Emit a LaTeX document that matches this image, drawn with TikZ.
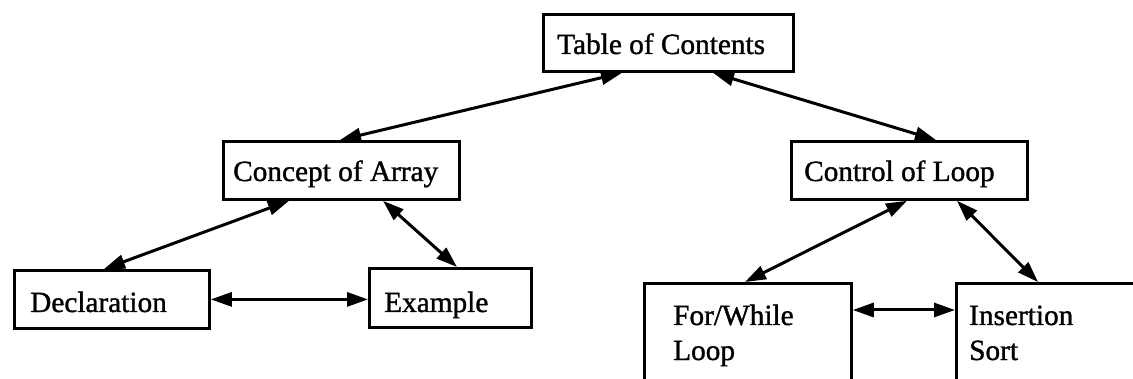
\documentclass[tikz,border=0pt]{standalone}
\usepackage{fontspec}
\setmainfont[FakeBold=1.2]{Liberation Serif}
\usetikzlibrary{arrows.meta}
\begin{document}
\begin{tikzpicture}[x=1pt,y=-1pt,
  box/.style={draw, line width=2.8pt, rectangle, inner sep=0pt, anchor=north west},
  lbl/.style={anchor=base west, inner sep=0pt, font=\fontsize{29.3}{34}\selectfont},
  link/.style={line width=3pt, {Triangle[length=21pt,width=14pt]}-{Triangle[length=21pt,width=14pt]}}]
\useasboundingbox (0,0) rectangle (1133,379);
\clip (0,0) rectangle (1133,379);
% boxes
\node[box, minimum width=250pt, minimum height=57pt] (toc) at (542,13) {};
\node[box, minimum width=236pt, minimum height=58pt] (coa) at (222,140) {};
\node[box, minimum width=236pt, minimum height=58pt] (col) at (790,140) {};
\node[box, minimum width=195pt, minimum height=58pt] (decl) at (13,269) {};
\node[box, minimum width=162pt, minimum height=59pt] (ex) at (368,267) {};
\node[box, minimum width=207pt, minimum height=200pt] (fw) at (643,282) {};
\node[box, minimum width=250pt, minimum height=200pt] (ins) at (955,282) {};
% labels
\node[lbl] (toct) at (557,54) {Table of Contents};
\node[lbl] (coat) at (233,181) {Concept of Array};
\node[lbl] (colt) at (804,181) {Control of Loop};
\node[lbl] (declt) at (30,312) {Declaration};
\node[lbl] (ext) at (384,312) {Example};
\node[lbl] (fwt1) at (673,325) {For/While};
\node[lbl] (fwt2) at (673,360) {Loop};
\node[lbl] (inst1) at (969,325) {Insertion};
\node[lbl] (inst2) at (969,360) {Sort};
% connectors
\draw[link] ([xshift=118pt]coa.north west) -- ([xshift=80pt]toc.south west);
\draw[link] ([xshift=171pt]toc.south west) -- ([xshift=146pt]col.north west);
\draw[link] ([xshift=91pt]decl.north west) -- ([xshift=67pt]coa.south west);
\draw[link] ([xshift=161pt]coa.south west) -- ([xshift=89pt]ex.north west);
\draw[link] (decl.east) -- (decl.east -| ex.west);
\draw[link] ([xshift=102pt]fw.north west) -- ([xshift=117pt]col.south west);
\draw[link] ([xshift=167pt]col.south west) -- ([xshift=83pt]ins.north west);
\draw[link] ([yshift=-28pt]fw.north east) -- ([yshift=-28pt]fw.north east -| ins.west);
\end{tikzpicture}
\end{document}
